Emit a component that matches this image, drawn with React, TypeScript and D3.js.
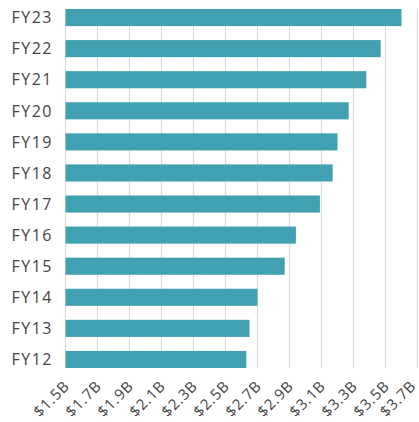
import React, { useRef, useEffect } from 'react';
import * as d3 from 'd3';

// fiscal years, top to bottom
const years = ['FY23', 'FY22', 'FY21', 'FY20', 'FY19', 'FY18', 'FY17', 'FY16', 'FY15', 'FY14', 'FY13', 'FY12'];
// revenue in billions
const revenue = [3.60, 3.47, 3.38, 3.27, 3.20, 3.17, 3.09, 2.94, 2.87, 2.70, 2.65, 2.63];
const ticks = [1.5, 1.7, 1.9, 2.1, 2.3, 2.5, 2.7, 2.9, 3.1, 3.3, 3.5, 3.7];

const width = 419;
const height = 422;
const margin = { top: 9, right: 1.5, bottom: 54, left: 65.5 };

const App = () => {
  const svgRef = useRef<SVGSVGElement>(null);

  useEffect(() => {
    const svg = d3.select(svgRef.current);
    svg.selectAll('*').remove();

    const x = d3.scaleLinear()
      .domain([1.5, 3.7])
      .range([margin.left, width - margin.right]);

    const y = d3.scaleBand()
      .domain(years)
      .range([margin.top, height - margin.bottom])
      .paddingInner(0.45)
      .paddingOuter(0);

    const font = '"Open Sans", sans-serif';

    // vertical grid lines
    svg.append('g')
      .selectAll('line')
      .data(ticks)
      .enter()
      .append('line')
        .attr('x1', d => x(d))
        .attr('x2', d => x(d))
        .attr('y1', margin.top)
        .attr('y2', height - margin.bottom)
        .attr('stroke', '#dcdcdc')
        .attr('stroke-width', 1.2);

    // bars
    svg.append('g')
      .selectAll('rect')
      .data(revenue)
      .enter()
      .append('rect')
        .attr('x', x(1.5))
        .attr('y', (d, i) => y(years[i]) as number)
        .attr('width', d => x(d) - x(1.5))
        .attr('height', y.bandwidth())
        .attr('fill', '#42a0b3');

    // year labels
    svg.append('g')
      .selectAll('text')
      .data(years)
      .enter()
      .append('text')
        .attr('x', 53)
        .attr('y', d => (y(d) as number) + y.bandwidth() / 2)
        .attr('dy', '0.36em')
        .attr('text-anchor', 'end')
        .attr('fill', '#444')
        .style('font-family', font)
        .style('font-size', '16px')
        .style('letter-spacing', '1.5px')
        .text(d => d);

    // rotated value labels
    svg.append('g')
      .selectAll('text')
      .data(ticks)
      .enter()
      .append('text')
        .attr('transform', d => `translate(${Math.min(x(d) + 5, 417)},387) rotate(-45)`)
        .attr('text-anchor', 'end')
        .attr('fill', '#444')
        .style('font-family', font)
        .style('font-size', '15px')
        .style('letter-spacing', '0.8px')
        .text(d => `$${d.toFixed(1)}B`);
  }, []);

  return (
    <div style={{ position: 'absolute', left: 0, top: 0 }}>
      <svg ref={svgRef} width={width} height={height}></svg>
    </div>
  );
};

export default App;
